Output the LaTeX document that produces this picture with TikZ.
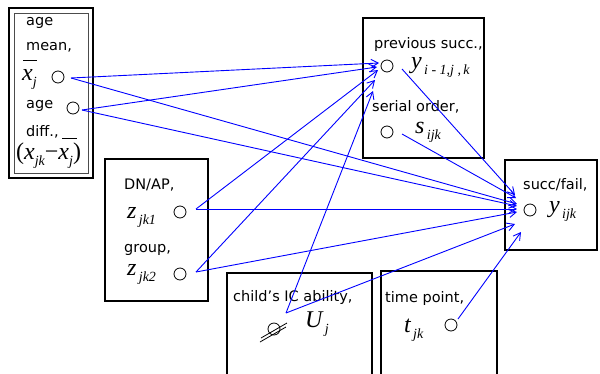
\documentclass[tikz,border=0pt]{standalone}
\usepackage{fontspec}
\setmainfont{DejaVu Sans}
\newfontfamily\tms{Liberation Serif}
\usetikzlibrary{arrows.meta}
\newcommand\lbl[1]{{\fontsize{14.5}{14.5}\selectfont #1}}
\newcommand\mvar[2]{{\tms\itshape\fontsize{24}{24}\selectfont #1\raisebox{-6pt}{\fontsize{14}{14}\selectfont #2}}}
\newcommand\mup[1]{{\tms\fontsize{24}{24}\selectfont #1}}
\begin{document}
\begin{tikzpicture}[x=1pt,y=-1pt,
  box/.style={draw=black,line width=1.3pt},
  ibox/.style={draw=black!70,line width=1pt},
  var/.style={draw=black,circle,minimum size=12pt,inner sep=0pt,line width=0.8pt},
  txt/.style={anchor=west,inner sep=0pt},
  arr/.style={draw=blue,line width=0.9pt,-{Straight Barb[length=7pt,width=8pt,line width=0.9pt]}}
]
\useasboundingbox (0,0) rectangle (600,373);
\fill[white] (0,0) rectangle (600,373);
% boxes
\draw[box] (9,8) rectangle (93,178);
\draw[ibox] (14,13) rectangle (88,173);
\draw[box] (363,18) rectangle (484,158);
\draw[box] (505,160) rectangle (597,250);
\draw[box] (105,159) rectangle (208,301);
\draw[box] (227,273) rectangle (372,380);
\draw[box] (381,271) rectangle (497,380);
% left box texts
\node[txt] (tage1) at (26,23) {\lbl{age}};
\node[txt] (tmean) at (26,47) {\lbl{mean,}};
\draw[line width=0.8pt] (23,60) -- (37,60);
\node[txt] (txj) at (22,79) {\mvar{x}{j}};
\node[txt] (tage2) at (26,106) {\lbl{age}};
\node[txt] (tdiff) at (26,132) {\lbl{diff.,}};
\draw[line width=0.8pt] (62,138) -- (77,138);
\node[txt] (txd) at (16,156) {\mup{(}\mvar{x}{jk}\mup{−}\mvar{x}{j}\mup{)}};
% prev box
\node[txt] (tprev) at (374,44) {\lbl{previous succ.,}};
\node[txt] (typ) at (411,67) {\mvar{y}{\,i - 1,j ,\,k}};
\node[txt] (tser) at (372,107) {\lbl{serial order,}};
\node[txt] (ts) at (415,132) {\mvar{s}{\,ijk}};
% succ box
\node[txt] (tsf) at (523,185) {\lbl{succ/fail,}};
\node[txt] (ty) at (549,211) {\mvar{y}{\,ijk}};
% DN box
\node[txt] (tdn) at (124,185) {\lbl{DN/AP,}};
\node[txt] (tz1) at (127,217) {\mvar{z}{\,jk1}};
\node[txt] (tgr) at (124,250) {\lbl{group,}};
\node[txt] (tz2) at (127,274) {\mvar{z}{\,jk2}};
% U box
\node[txt] (tch) at (233,297) {\lbl{child's IC ability,}};
\node[txt] (tU) at (305,324) {\mvar{U}{\,j}};
% t box
\node[txt] (ttp) at (385,298) {\lbl{time point,}};
\node[txt] (tt) at (404,330) {\mvar{t}{\,jk}};
% circles
\node[var] (cxj) at (58,77) {};
\node[var] (cad) at (73,108) {};
\node[var] (cprev) at (387,66) {};
\node[var] (cs) at (387,132) {};
\node[var] (csucc) at (530,210) {};
\node[var] (cz1) at (180,212) {};
\node[var] (cz2) at (180,274) {};
\node[var] (cU) at (274,329) {};
\node[var] (ct) at (451,325) {};
\draw[line width=0.8pt] ([shift={(-13,9)}]cU.center) -- ([shift={(13,-6)}]cU.center);
\draw[line width=0.8pt] ([shift={(-14,13)}]cU.center) -- ([shift={(12,-2)}]cU.center);
% arrows to previous success
\path[arr] ([shift={(13,1)}]cxj.center) -- ([shift={(-8,-3)}]cprev.center);
\path[arr] ([shift={(9,2)}]cad.center) -- ([shift={(-10,1)}]cprev.center);
\path[arr] ([shift={(16,-3)}]cz1.center) -- ([shift={(-9,4)}]cprev.center);
\path[arr] ([shift={(16,-2)}]cz2.center) -- ([shift={(-12,14)}]cprev.center);
\path[arr] ([shift={(12,-16)}]cU.center) -- ([shift={(-14,25)}]cprev.center);
% arrows to succ/fail
\path[arr] ([shift={(15,3)}]cprev.center) -- ([shift={(-15,-15)}]csucc.center);
\path[arr] ([shift={(15,2)}]cs.center) -- ([shift={(-14,-12)}]csucc.center);
\path[arr] ([shift={(13,1)}]cxj.center) -- ([shift={(-13,-6)}]csucc.center);
\path[arr] ([shift={(9,2)}]cad.center) -- ([shift={(-13,-4)}]csucc.center);
\path[arr] ([shift={(16,-3)}]cz1.center) -- ([shift={(-13,-1)}]csucc.center);
\path[arr] ([shift={(16,-2)}]cz2.center) -- ([shift={(-13,2)}]csucc.center);
\path[arr] ([shift={(12,-16)}]cU.center) -- ([shift={(-15,14)}]csucc.center);
\path[arr] ([shift={(7,-6)}]ct.center) -- ([shift={(-9,22)}]csucc.center);
\end{tikzpicture}
\end{document}
